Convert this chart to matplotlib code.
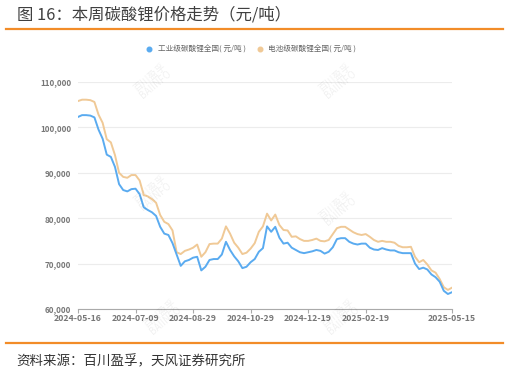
import matplotlib
matplotlib.use("Agg")
import matplotlib.pyplot as plt
from matplotlib.lines import Line2D

plt.rcParams['font.family'] = ['Noto Sans CJK SC', 'DejaVu Sans']

# tick labels on the (trading-day) category axis
tick_labels = ['2024-05-16', '2024-07-09', '2024-08-29', '2024-10-29',
               '2024-12-19', '2025-02-19', '2025-05-15']
tick_index = [0, 14, 28, 42, 56, 70, 91]

# industrial grade lithium carbonate, yuan/ton
industrial = [102300, 102700, 102700, 102600, 102200, 99500, 97500, 94000, 93500, 91300,
              87500, 86200, 85900, 86400, 86500, 85300, 82400, 81800, 81300, 80500,
              78100, 76600, 76300, 74500, 72000, 69500, 70500, 70800, 71300, 71500,
              68500, 69300, 70800, 71000, 71000, 72000, 74800, 73000, 71600, 70500,
              69000, 69300, 70300, 71000, 72600, 73400, 78200, 77000, 78100, 75700,
              74400, 74600, 73500, 73000, 72500, 72300, 72500, 72700, 73000, 72800,
              72200, 72600, 73600, 75400, 75600, 75600, 74800, 74400, 74200, 74400,
              74400, 73500, 73100, 73000, 73400, 73100, 72900, 72900, 72500, 72300,
              72300, 72300, 70000, 68800, 69100, 68700, 67600, 67000, 66000, 64000,
              63300, 63700]

# battery grade lithium carbonate, yuan/ton
battery = [105800, 106100, 106100, 106000, 105600, 102800, 101000, 97400, 96700, 93900,
           90000, 89100, 88900, 89500, 89500, 88300, 85100, 84800, 84200, 83400,
           80700, 79200, 78700, 77300, 72500, 72100, 72800, 73100, 73500, 74200,
           71500, 72500, 74300, 74400, 74400, 75500, 78200, 76600, 74600, 73500,
           72100, 72400, 73300, 74500, 77000, 78200, 81000, 79500, 80800, 78500,
           77400, 77300, 75900, 76000, 75400, 75000, 75000, 75200, 75500, 75000,
           74900, 75200, 76500, 77800, 78100, 78100, 77500, 76900, 76500, 76300,
           76500, 75900, 75200, 74800, 75000, 74800, 74800, 74600, 73900, 73600,
           73600, 73700, 71500, 70300, 70800, 69800, 68500, 68000, 66600, 64800,
           64200, 64700]

series_names = ['工业级碳酸锂全国( 元/吨 )', '电池级碳酸锂全国( 元/吨 )']
blue = '#5aabf0'
tan = '#f0c996'

fig = plt.figure(figsize=(5.08, 3.86), dpi=100)

# title and orange rules
fig.text(0.033, 0.962, '图 16：本周碳酸锂价格走势（元/吨）', fontsize=11.8,
         color='#404040', va='center', ha='left', fontweight='medium')
fig.add_artist(Line2D([0.012, 0.99], [0.925, 0.925], color='#f28c28', lw=1.6))
fig.add_artist(Line2D([0.012, 0.99], [0.112, 0.112], color='#f28c28', lw=1.6))
fig.text(0.033, 0.064, '资料来源：百川盈孚，天风证券研究所', fontsize=9.7,
         color='#333333', va='center', ha='left')

ax = fig.add_axes([0.1535, 0.1995, 0.7363, 0.5881])
x = list(range(len(industrial)))
ax.plot(x, battery, color=tan, lw=1.4, zorder=3)
ax.plot(x, industrial, color=blue, lw=1.4, zorder=3)

ax.set_xlim(0, len(industrial) - 1)
ax.set_ylim(60000, 110000)
ax.set_yticks(range(60000, 110001, 10000))
ax.set_yticklabels(['{:,}'.format(v) for v in range(60000, 110001, 10000)])
ax.set_xticks(tick_index)
ax.set_xticklabels(tick_labels)

ax.grid(axis='y', color='#ececec', lw=0.8)
ax.set_axisbelow(True)
for s in ['top', 'right', 'left']:
    ax.spines[s].set_visible(False)
ax.spines['bottom'].set_color('#aaaaaa')
ax.spines['bottom'].set_linewidth(0.8)
ax.tick_params(axis='y', length=0, pad=5, labelsize=5.8, labelcolor='#777777')
ax.tick_params(axis='x', length=3, width=0.8, color='#aaaaaa', pad=0.5,
               labelsize=6.3, labelcolor='#777777')
for t in ax.get_xticklabels() + ax.get_yticklabels():
    t.set_fontweight('bold')

# legend
handles = [Line2D([], [], marker='o', ls='', color=blue, markersize=3.3),
           Line2D([], [], marker='o', ls='', color=tan, markersize=3.3)]
fig.legend(handles, series_names, loc='center', bbox_to_anchor=(0.49, 0.872),
           ncol=2, frameon=False, fontsize=5.5, handletextpad=0.1,
           columnspacing=0.8, labelcolor='#666666')

# faint watermarks
for wx, wy in [(0.3, 0.79), (0.3, 0.5), (0.665, 0.79), (0.665, 0.46), (0.32, 0.18), (0.67, 0.18)]:
    fig.text(wx, wy, '百川盈孚\nBAIINFO', fontsize=7, color='#000000', alpha=0.06,
             rotation=40, ha='center', va='center', linespacing=0.9)

fig.savefig('out.png', dpi=100)
